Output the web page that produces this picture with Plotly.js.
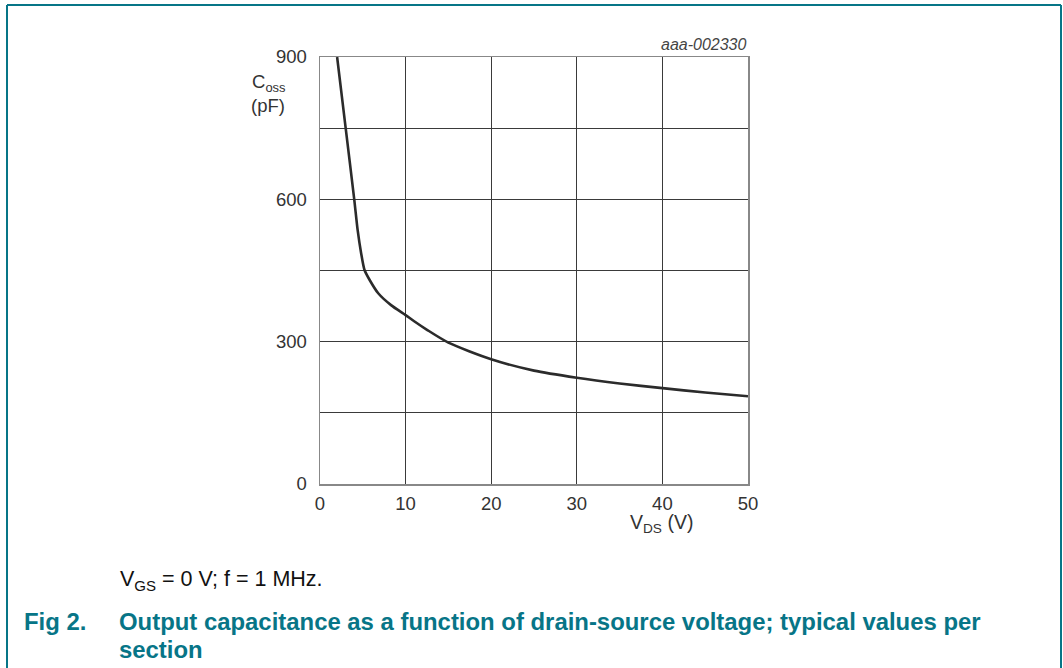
<!DOCTYPE html>
<html><head><meta charset="utf-8">
<script src="https://cdn.plot.ly/plotly-3.0.1.min.js"></script>
<style>html,body{margin:0;padding:0;background:#fff;}#chart{width:1063px;height:668px;}</style>
</head><body><div id="chart"></div>
<script>
var vds = [2, 3, 4, 4.4, 4.8, 5.2, 5.8, 6.8, 8.3, 10, 11, 12.5, 15, 20, 25, 30, 35, 40, 45, 50];
var coss = [900, 750, 600, 535, 487, 451, 430, 402, 377, 356, 343, 325, 298, 263, 239, 224, 212, 202, 193, 185];
var xTicks = [0, 10, 20, 30, 40, 50];
var yTicks = [0, 300, 600, 900];

var W = 1063, H = 668, L = 320, R = 315, T = 57, B = 184;
var pw = W - L - R, ph = H - T - B;
function px(x){ return (x - L) / pw; }
function py(y){ return (H - B - y) / ph; }
var teal = '#077587';
var font = 'Liberation Sans';

var trace = {x: vds, y: coss, mode: 'lines', line: {color: '#2b2b2b', width: 2.6, shape: 'spline', smoothing: 0.7}, hoverinfo: 'skip'};

var layout = {
  width: W, height: H,
  margin: {l: L, r: R, t: T, b: B},
  paper_bgcolor: '#fff', plot_bgcolor: '#fff',
  showlegend: false,
  font: {family: font, size: 18, color: '#333'},
  xaxis: {range: [0, 50], tickvals: xTicks, ticktext: xTicks.map(String), showgrid: true, gridcolor: '#3a3a3a', gridwidth: 1,
    zeroline: false, showline: true, linecolor: '#888', linewidth: 1.5, mirror: true, ticks: '', ticklabelstandoff: 2,
    tickfont: {family: font, size: 18.5, color: '#333'}, fixedrange: true},
  yaxis: {range: [0, 900], tickvals: yTicks, ticktext: yTicks.map(String), showgrid: true, gridcolor: '#3a3a3a', gridwidth: 1,
    minor: {tickvals: [150, 450, 750], showgrid: true, gridcolor: '#3a3a3a', gridwidth: 1, ticks: ''},
    zeroline: false, showline: true, linecolor: '#888', linewidth: 1.5, mirror: true, ticks: '', ticklabelstandoff: 8,
    tickfont: {family: font, size: 18.5, color: '#333'}, fixedrange: true},
  annotations: [
    {xref: 'paper', yref: 'paper', x: px(288), y: py(83), text: 'C<sub>oss</sub>', showarrow: false, xanchor: 'right', yanchor: 'middle', font: {family: font, size: 18.5, color: '#333'}},
    {xref: 'paper', yref: 'paper', x: px(287), y: py(105), text: '(pF)', showarrow: false, xanchor: 'right', yanchor: 'middle', font: {family: font, size: 18.5, color: '#333'}},
    {xref: 'paper', yref: 'paper', x: px(695), y: py(523), text: 'V<sub>DS</sub> (V)', showarrow: false, xanchor: 'right', yanchor: 'middle', font: {family: font, size: 19.5, color: '#333'}},
    {xref: 'paper', yref: 'paper', x: px(749), y: py(45), text: '<i>aaa-002330</i>', showarrow: false, xanchor: 'right', yanchor: 'middle', font: {family: font, size: 16, color: '#444'}},
    {xref: 'paper', yref: 'paper', x: px(118), y: py(580), text: 'V<sub>GS</sub> = 0 V; f = 1 MHz.', showarrow: false, xanchor: 'left', yanchor: 'middle', font: {family: font, size: 21.5, color: '#111'}},
    {xref: 'paper', yref: 'paper', x: px(22), y: py(621), text: '<b>Fig 2.</b>', showarrow: false, xanchor: 'left', yanchor: 'middle', font: {family: font, size: 23.9, color: teal}},
    {xref: 'paper', yref: 'paper', x: px(117), y: py(621), text: '<b>Output capacitance as a function of drain-source voltage; typical values per</b>', showarrow: false, xanchor: 'left', yanchor: 'middle', font: {family: font, size: 23.9, color: teal}},
    {xref: 'paper', yref: 'paper', x: px(117), y: py(649), text: '<b>section</b>', showarrow: false, xanchor: 'left', yanchor: 'middle', font: {family: font, size: 23.9, color: teal}}
  ],
  shapes: [
    {type: 'line', xref: 'paper', yref: 'paper', x0: px(7), x1: px(1061), y0: py(5), y1: py(5), line: {color: teal, width: 2}},
    {type: 'line', xref: 'paper', yref: 'paper', x0: px(7), x1: px(7), y0: py(5), y1: py(668), line: {color: teal, width: 2}},
    {type: 'line', xref: 'paper', yref: 'paper', x0: px(1061), x1: px(1061), y0: py(5), y1: py(668), line: {color: teal, width: 2}}
  ]
};
Plotly.newPlot('chart', [trace], layout, {displayModeBar: false, staticPlot: true});
</script></body></html>
